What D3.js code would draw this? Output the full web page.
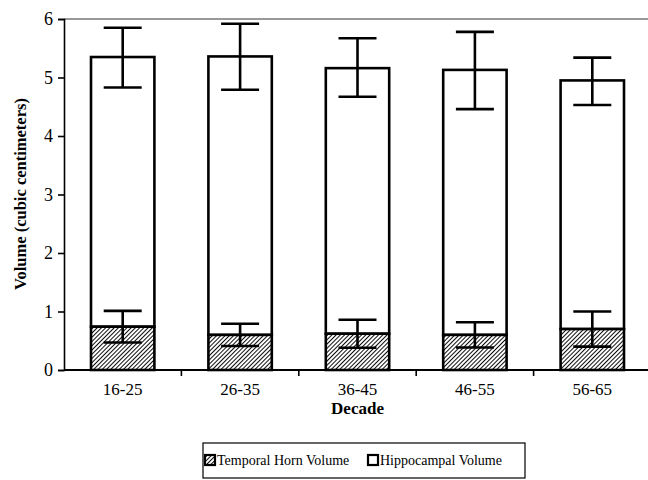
<!DOCTYPE html>
<html>
<head>
<meta charset="utf-8">
<script src="https://d3js.org/d3.v7.min.js"></script>
<style>
  body { margin: 0; background: #fff; }
  svg { display: block; }
  text { font-family: "Liberation Serif", "Times New Roman", serif; fill: #000; }
</style>
</head>
<body>
<svg id="chart" width="648" height="480"></svg>
<script>
// data
var decades = ["16-25", "26-35", "36-45", "46-55", "56-65"];
var hornMean = [0.74, 0.60, 0.62, 0.60, 0.70];
var hornErr = [0.27, 0.19, 0.24, 0.215, 0.30];
var hippoMean = [4.61, 4.76, 4.54, 4.53, 4.25];
var hippoErrHigh = [0.50, 0.56, 0.51, 0.65, 0.39];
var hippoErrLow = [0.52, 0.57, 0.49, 0.67, 0.42];
var yTicks = [0, 1, 2, 3, 4, 5, 6];
var seriesNames = ["Temporal Horn Volume", "Hippocampal Volume"];

var svg = d3.select("#chart");
var plotLeft = 64, plotRight = 651, plotTop = 19, plotBottom = 370;

var x = d3.scaleBand().domain(decades).range([plotLeft, plotRight]).paddingInner(0.46).paddingOuter(0.23);
var y = d3.scaleLinear().domain([0, 6]).range([plotBottom, plotTop]);

// hatch pattern
var defs = svg.append("defs");
var pat = defs.append("pattern")
    .attr("id", "hatch")
    .attr("patternUnits", "userSpaceOnUse")
    .attr("width", 3).attr("height", 3)
    .attr("patternTransform", "rotate(45)");
pat.append("rect").attr("width", 3).attr("height", 3).attr("fill", "#fff");
pat.append("line").attr("x1", 0).attr("y1", 0).attr("x2", 0).attr("y2", 3)
    .attr("stroke", "#000").attr("stroke-width", 1.9);

// top frame line
svg.append("line")
    .attr("x1", plotLeft).attr("x2", 648).attr("y1", plotTop).attr("y2", plotTop)
    .attr("stroke", "#333").attr("stroke-width", 1);

var rows = decades.map(function (d, i) {
  return { d: d, horn: hornMean[i], hornE: hornErr[i], hippo: hippoMean[i],
           hiE: hippoErrHigh[i], loE: hippoErrLow[i] };
});

var g = svg.append("g");
// hippocampal (top segment)
g.selectAll(".hippo").data(rows).enter().append("rect")
    .attr("x", function (r) { return x(r.d); })
    .attr("width", x.bandwidth())
    .attr("y", function (r) { return y(r.horn + r.hippo); })
    .attr("height", function (r) { return y(r.horn) - y(r.horn + r.hippo); })
    .attr("fill", "#fff").attr("stroke", "#000").attr("stroke-width", 2.6);
// temporal horn (bottom segment)
g.selectAll(".horn").data(rows).enter().append("rect")
    .attr("x", function (r) { return x(r.d); })
    .attr("width", x.bandwidth())
    .attr("y", function (r) { return y(r.horn); })
    .attr("height", function (r) { return y(0) - y(r.horn); })
    .attr("fill", "url(#hatch)").attr("stroke", "#000").attr("stroke-width", 2.6);

// error bars
function errBars(lo, hi) {
  var cap = 19;
  var eg = svg.append("g").attr("stroke", "#000").attr("stroke-width", 2.6);
  rows.forEach(function (r) {
    var cx = x(r.d) + x.bandwidth() / 2;
    eg.append("line").attr("x1", cx).attr("x2", cx).attr("y1", y(lo(r))).attr("y2", y(hi(r)));
    eg.append("line").attr("x1", cx - cap).attr("x2", cx + cap).attr("y1", y(lo(r))).attr("y2", y(lo(r)));
    eg.append("line").attr("x1", cx - cap).attr("x2", cx + cap).attr("y1", y(hi(r))).attr("y2", y(hi(r)));
  });
}
errBars(function (r) { return r.horn + r.hippo - r.loE; }, function (r) { return r.horn + r.hippo + r.hiE; });
errBars(function (r) { return r.horn - r.hornE; }, function (r) { return r.horn + r.hornE; });

// y axis
var yAxis = svg.append("g")
    .attr("transform", "translate(" + plotLeft + ",0)")
    .call(d3.axisLeft(y).tickValues(yTicks).tickSize(6).tickPadding(5).tickFormat(d3.format("d")));
yAxis.select(".domain").attr("stroke-width", 1.6);
yAxis.selectAll(".tick line").attr("stroke-width", 1.6);
yAxis.selectAll("text").style("font-size", "18px").style("font-family", "Liberation Serif");

// x axis
svg.append("line")
    .attr("x1", plotLeft).attr("x2", 648).attr("y1", plotBottom).attr("y2", plotBottom)
    .attr("stroke", "#000").attr("stroke-width", 2.2);
var step = x.step();
var xg = svg.append("g");
decades.slice(1).forEach(function (d) {
  var bx = x(d) - x.paddingInner() * step / 2;
  xg.append("line").attr("x1", bx).attr("x2", bx).attr("y1", plotBottom).attr("y2", plotBottom + 6)
      .attr("stroke", "#000").attr("stroke-width", 1.6);
});
xg.selectAll(".xl").data(decades).enter().append("text")
    .attr("x", function (d) { return x(d) + x.bandwidth() / 2; })
    .attr("y", 395)
    .attr("text-anchor", "middle")
    .style("font-size", "17px")
    .text(function (d) { return d; });

// axis titles
svg.append("text")
    .attr("x", (plotLeft + plotRight) / 2).attr("y", 414)
    .attr("text-anchor", "middle")
    .style("font-size", "17px").style("font-weight", "bold")
    .text("Decade");
svg.append("text")
    .attr("transform", "translate(26," + 194 + ") rotate(-90)")
    .attr("text-anchor", "middle")
    .style("font-size", "16.5px").style("font-weight", "bold")
    .text("Volume (cubic centimeters)");

// legend
var lg = svg.append("g");
lg.append("rect").attr("x", 203).attr("y", 443).attr("width", 322).attr("height", 35)
    .attr("fill", "#fff").attr("stroke", "#000").attr("stroke-width", 1.2);
var legX = [205, 368];
seriesNames.forEach(function (s, i) {
  lg.append("rect").attr("x", legX[i]).attr("y", 455).attr("width", 10).attr("height", 10)
      .attr("fill", i === 0 ? "url(#hatch)" : "#fff")
      .attr("stroke", "#000").attr("stroke-width", 2.2);
  lg.append("text").attr("x", legX[i] + 12).attr("y", 465)
      .style("font-size", "14px").text(s);
});
</script>
</body>
</html>
